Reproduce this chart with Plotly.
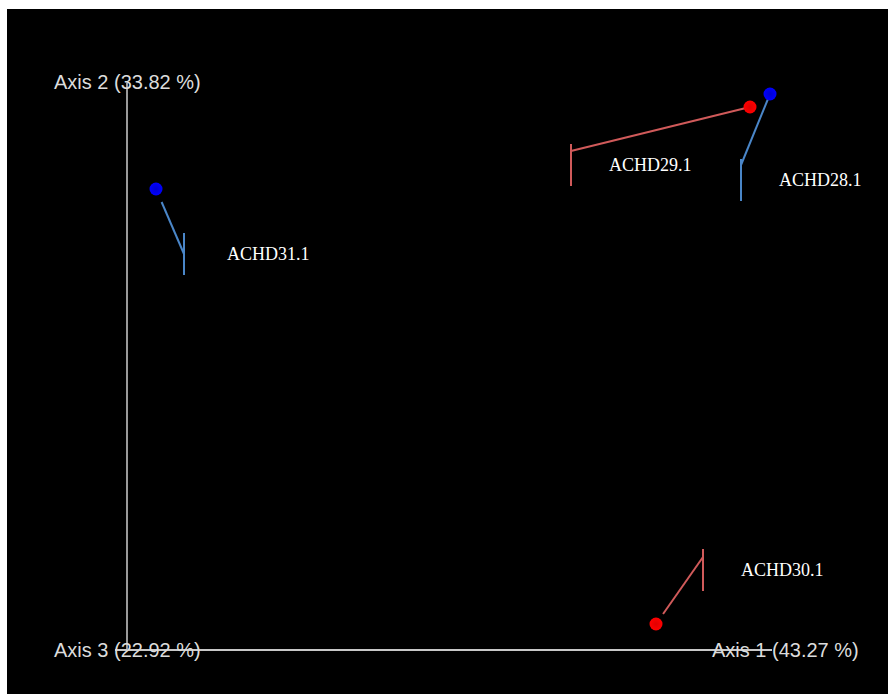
import plotly.graph_objects as go

# Projected ordination coordinates (view plane units)
samples = ["ACHD28.1", "ACHD29.1", "ACHD30.1", "ACHD31.1"]
groups = ["B", "A", "A", "B"]
pc_x = [6.43, 6.23, 5.29, 0.29]
pc_y = [5.56, 5.43, 0.26, 4.61]

# Label callout positions (bar x, bar centre y, elbow y) and leader start trim
label_x = [6.14, 4.44, 5.76, 0.57]
label_y = [4.70, 4.85, 0.80, 3.96]
elbow_y = [4.85, 4.99, 0.93, 3.96]
leader_trim = [0.0, 0.0, 0.15, 0.20]
text_gap_px = [36, 36, 36, 41]

# Axes: titles, projected end points, title anchors
axis_titles = ["Axis 1 (43.27 %)", "Axis 2 (33.82 %)", "Axis 3 (22.92 %)"]
axis_end_x = [6.45, 0.0, -0.12]
axis_end_y = [0.0, 5.67, 0.0]
axis_title_x = [6.58, 0.0, 0.0]
axis_title_y = [0.0, 5.68, 0.0]

point_colors = {"A": "#ff0000", "B": "#0000ff"}
point_edge = {"A": "#e00000", "B": "#0000d0"}
leader_colors = {"A": "#d05a5a", "B": "#4a86c8"}
axis_colors = ["#c8c8c8", "#9a9a9a", "#c8c8c8"]

BAR_HALF = 0.21

fig = go.Figure()

# axis lines
for ex, ey, col in zip(axis_end_x, axis_end_y, axis_colors):
    fig.add_trace(go.Scatter(x=[0, ex], y=[0, ey], mode="lines",
                             line=dict(color=col, width=2),
                             hoverinfo="skip", showlegend=False))

# leader lines and label bars
for i, name in enumerate(samples):
    col = leader_colors[groups[i]]
    t = leader_trim[i]
    sx = pc_x[i] + (label_x[i] - pc_x[i]) * t
    sy = pc_y[i] + (elbow_y[i] - pc_y[i]) * t
    fig.add_trace(go.Scatter(x=[sx, label_x[i]], y=[sy, elbow_y[i]], mode="lines",
                             line=dict(color=col, width=2),
                             hoverinfo="skip", showlegend=False))
    fig.add_trace(go.Scatter(x=[label_x[i], label_x[i]],
                             y=[label_y[i] - BAR_HALF, label_y[i] + BAR_HALF],
                             mode="lines", line=dict(color=col, width=2),
                             hoverinfo="skip", showlegend=False))
    fig.add_annotation(x=label_x[i], y=label_y[i], xref="x", yref="y",
                       text=name, showarrow=False, xanchor="left", yanchor="middle",
                       xshift=text_gap_px[i],
                       font=dict(family="Liberation Serif", size=18, color="#ffffff"))

# sample spheres
for g in ["A", "B"]:
    idx = [i for i, gg in enumerate(groups) if gg == g]
    fig.add_trace(go.Scatter(
        x=[pc_x[i] for i in idx], y=[pc_y[i] for i in idx],
        text=[samples[i] for i in idx], mode="markers",
        marker=dict(size=13, color=point_colors[g],
                    gradient=dict(type="radial", color=point_edge[g]),
                    line=dict(width=0)),
        hoverinfo="text", showlegend=False))

# axis titles
for t, x, y in zip(axis_titles, axis_title_x, axis_title_y):
    fig.add_annotation(x=x, y=y, xref="x", yref="y", text=t, showarrow=False,
                       xanchor="center", yanchor="middle",
                       font=dict(family="Liberation Sans", size=20, color="#dcdcdc"))

fig.update_layout(
    width=888, height=694,
    margin=dict(l=0, r=0, t=0, b=0),
    paper_bgcolor="#ffffff", plot_bgcolor="#000000",
    xaxis=dict(domain=[7 / 888, 1], range=[-1.20, 7.61], visible=False,
               showgrid=False, zeroline=False, fixedrange=True),
    yaxis=dict(domain=[0, 685 / 694], range=[-0.44, 6.41], visible=False,
               showgrid=False, zeroline=False, fixedrange=True),
    hovermode="closest",
)

fig.write_html("out.html", config={"displayModeBar": False})
